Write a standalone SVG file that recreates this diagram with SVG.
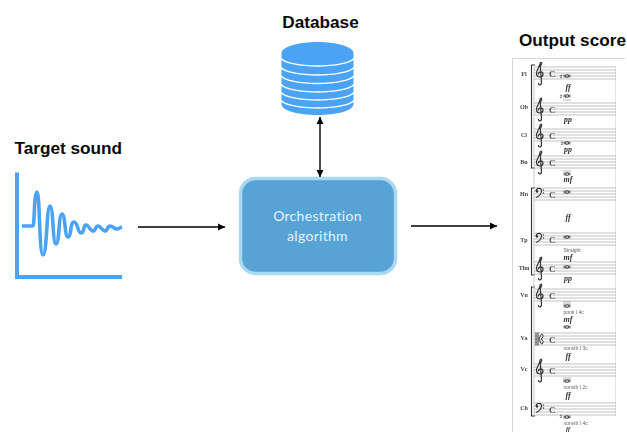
<svg xmlns="http://www.w3.org/2000/svg" width="627" height="432" viewBox="0 0 627 432">
<style>
.title{font:bold 17.2px "Liberation Sans",Arial,sans-serif;fill:#0a0a0a}
.wire{fill:none;stroke:#000;stroke-width:1.4}
.inside{font:14px "Lato","Open Sans",sans-serif;fill:#e6f2fa;text-anchor:middle;letter-spacing:.3px}
.wave{fill:none;stroke:#4aa3f5;stroke-linejoin:round}
.band{fill:none;stroke:#fff;stroke-width:1.3}
.staff{fill:none;stroke:#999;stroke-width:.6}
.inst{font:bold 6px "Liberation Serif",serif;fill:#444;text-anchor:middle}
.dyn{font:italic bold 8px "Liberation Serif",serif;fill:#333;text-anchor:middle}
.tech{font:5px "Liberation Sans",sans-serif;fill:#666}
.tsig{font:bold 9px "Liberation Serif",serif;fill:#555}
.sharp{font:7px "DejaVu Sans",sans-serif;fill:#444;text-anchor:middle}
.note{fill:none;stroke:#333;stroke-width:1.1}
.clef{fill:none;stroke:#333;stroke-width:1.2}
</style>
<defs>
<marker id="ah" markerUnits="userSpaceOnUse" markerWidth="8" markerHeight="8" refX="7" refY="4" orient="auto-start-reverse"><path d="M0,.5 L7,4 L0,7.5z" fill="#000"/></marker>
<filter id="soft" x="0" y="0" width="1" height="1"><feGaussianBlur stdDeviation=".35"/></filter>
<g id="st"><path class="staff" d="M534,0H616M534,3H616M534,6H616M534,9H616M534,12H616"/></g>
<g id="gc"><path class="clef" d="M540,-4.500L541.500,15.500C541.600,18.500 538,18.500 538.500,16M540.600,-1C543,-4.500 541,-6.500 540,-3C539,1 536,4 536.500,7C537,11 543,11 543,7C543,4 538,4 538.500,7.500"/></g>
<g id="fc"><path class="clef" d="M536,3C537,-.5 542,-.5 541.500,3.500C541,6.500 538.500,8.500 536,9.500"/><circle cx="537" cy="3.500" r="1.200" fill="#333"/><circle cx="543.500" cy="2" r=".7" fill="#333"/><circle cx="543.500" cy="5" r=".7" fill="#333"/></g>
<g id="cc"><path fill="none" stroke="#333" stroke-width="1" d="M536,-.5V12.500M538,-.5V12.500M539,6L541,1.500C543.500,-.5 544,5 541,6C544,7 543.500,12.500 541,10.500Z"/></g>
<g id="wn"><ellipse class="note" cx="0" cy="0" rx="2.200" ry="1.200"/><path stroke="#333" stroke-width=".6" d="M-3,-1.500V1.500M3,-1.500V1.500"/></g>
</defs>

<g id="target-sound">
<text class="title" x="14.500" y="154">Target sound</text>
<path fill="#4aa3f5" d="M15,172.500H19V275H122V279H15Z"/>
<path class="wave" stroke-width="3.600" d="M22,226H33C34.500,226 34,192 37,192C40,192 39,255 43,255C47,255 46.500,206 50,206C53.500,206 52.500,244 56,244C59.500,244 58.500,214 62,214C65.500,214 64.500,237 68,237C71.500,237 70,222 74,222C78,222 77.500,233 81,233C84.500,233 83,225 86,225C89,225 90,231 93,231C96,231 95,226 98,226C101,226 102,231 105,231C108,231 107,226 110,226C113,226 114,229 117,229C119,229 120,227.500 122,227"/>
</g>

<g id="database">
<text class="title" x="320.500" y="28" text-anchor="middle">Database</text>
<path fill="#4aa3f5" d="M281.500,53C281.500,47 298,42 317.500,42C337,42 353.500,47 353.500,53V104C353.500,110.500 337,115 317.500,115C298,115 281.500,110.500 281.500,104Z"/>
<path class="band" d="M281,58.500C285,63 300,66 317.500,66C335,66 350,63 354,58.500"/>
<path class="band" d="M281,67.500C285,72 300,75 317.500,75C335,75 350,72 354,67.500"/>
<path class="band" d="M281,76C285,80.500 300,83.500 317.500,83.500C335,83.500 350,80.500 354,76"/>
<path class="band" d="M281,84.500C285,89 300,92 317.500,92C335,92 350,89 354,84.500"/>
<path class="band" d="M281,92.500C285,97 300,100 317.500,100C335,100 350,97 354,92.500"/>
<path class="band" d="M281,100.500C285,105 300,108 317.500,108C335,108 350,105 354,100.500"/>
</g>

<g id="orchestration-algorithm">
<rect x="240.500" y="178.500" width="155" height="95" rx="15" fill="#57a3d6" stroke="#a9d8f3" stroke-width="3.500"/>
<text class="inside" x="317.500" y="221">Orchestration</text>
<text class="inside" x="317.500" y="241">algorithm</text>
</g>

<g id="connectors">
<path class="wire" marker-end="url(#ah)" d="M138,227H225"/>
<path class="wire" marker-end="url(#ah)" d="M411,226H497"/>
<path class="wire" marker-start="url(#ah)" marker-end="url(#ah)" d="M320,117V177"/>
</g>

<g id="output-score">
<text class="title" x="519" y="46">Output score</text>
<path fill="none" stroke="#ccc" stroke-width=".8" d="M512.500,432V58.500H625"/>
<g filter="url(#soft)">
<path stroke="#333" stroke-width="1.100" fill="none" d="M535,65H531.500V168H535M535,188H531.500V275H535M535,287H531.500V416H535"/>
<path stroke="#bbb" stroke-width=".8" d="M534,67V415M616,67V415"/>
<use href="#st" y="67"/><use href="#st" y="103"/><use href="#st" y="129"/><use href="#st" y="156"/><use href="#st" y="188"/><use href="#st" y="233"/><use href="#st" y="262"/><use href="#st" y="289"/><use href="#st" y="333"/><use href="#st" y="364"/><use href="#st" y="403"/>
<use href="#gc" y="67"/><use href="#gc" y="103"/><use href="#gc" y="129"/><use href="#gc" y="156"/><use href="#fc" y="188"/><use href="#fc" y="233"/><use href="#gc" y="262"/><use href="#gc" y="289"/><use href="#cc" y="333"/><use href="#gc" y="364"/><use href="#fc" y="403"/>
<text class="inst" x="524" y="76">Fl</text><text class="inst" x="524" y="109">Ob</text><text class="inst" x="524" y="137">Cl</text><text class="inst" x="524" y="164">Bn</text><text class="inst" x="524" y="196">Hn</text><text class="inst" x="524" y="242">Tp</text><text class="inst" x="524" y="270">Thn</text><text class="inst" x="524" y="297">Vn</text><text class="inst" x="524" y="340">Va</text><text class="inst" x="524" y="371">Vc</text><text class="inst" x="524" y="410">Ch</text>
<text class="tsig" x="549" y="76.500">C</text><text class="tsig" x="549" y="112.500">C</text><text class="tsig" x="549" y="138.500">C</text><text class="tsig" x="549" y="165.500">C</text><text class="tsig" x="549" y="197.500">C</text><text class="tsig" x="549" y="242.500">C</text><text class="tsig" x="549" y="271.500">C</text><text class="tsig" x="549" y="298.500">C</text><text class="tsig" x="549" y="342.500">C</text><text class="tsig" x="549" y="373.500">C</text><text class="tsig" x="549" y="412.500">C</text>
<use href="#wn" x="567" y="76"/><text class="sharp" x="561" y="79">♯</text>
<use href="#wn" x="567" y="96"/><text class="sharp" x="561" y="99">♯</text>
<use href="#wn" x="567" y="143"/><text class="sharp" x="562" y="146">♯</text>
<use href="#wn" x="567" y="174"/>
<use href="#wn" x="567" y="192"/>
<use href="#wn" x="567" y="237"/>
<use href="#wn" x="567" y="267"/>
<use href="#wn" x="567" y="306"/>
<use href="#wn" x="567" y="327"/>
<use href="#wn" x="567" y="381"/>
<use href="#wn" x="567" y="417"/><text class="sharp" x="561" y="419">♯</text>
<path stroke="#888" stroke-width=".6" d="M563,100H571M563,171H571M563,302H571M563,304H571M563,378H571M563,380H571"/>
<text class="dyn" x="568" y="90">ff</text><text class="dyn" x="568" y="122">pp</text><text class="dyn" x="568" y="152">pp</text><text class="dyn" x="568" y="182">mf</text><text class="dyn" x="568" y="220">ff</text><text class="dyn" x="568" y="260">mf</text><text class="dyn" x="568" y="281">pp</text><text class="dyn" x="568" y="322">mf</text><text class="dyn" x="568" y="359">ff</text><text class="dyn" x="568" y="398">ff</text><text class="dyn" x="568" y="431" style="font-size:6.5px">ff</text>
<text class="tech" x="563.500" y="252">Straight</text><text class="tech" x="563.500" y="314">ponti I 4c</text><text class="tech" x="563.500" y="350">nonvib I 3c</text><text class="tech" x="563.500" y="389">nonvib I 2c</text><text class="tech" x="563.500" y="424.500">nonvib I 4c</text>
</g>
</g>
</svg>
